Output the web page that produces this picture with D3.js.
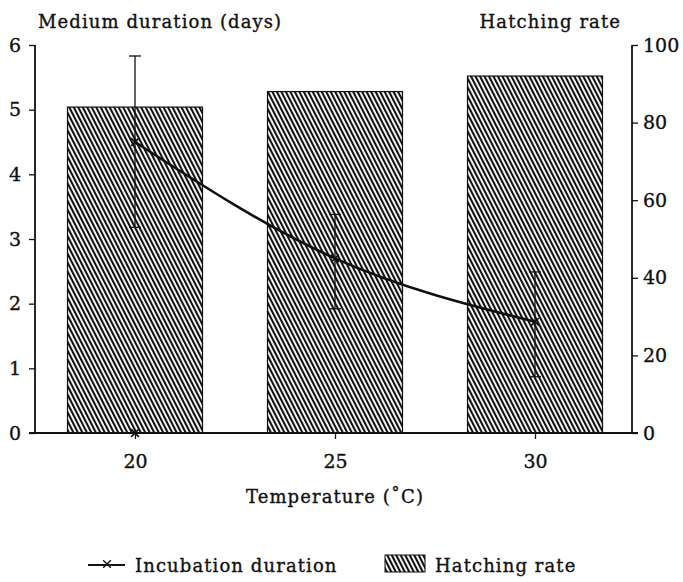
<!DOCTYPE html>
<html>
<head>
<meta charset="utf-8">
<script src="https://cdn.jsdelivr.net/npm/d3@7"></script>
<style>
  body { margin: 0; background: #fff; }
  text { font-family: "DejaVu Serif", "Liberation Serif", serif; fill: #111; stroke: #111; stroke-width: 0.35px; }
  .label { letter-spacing: 1.1px; }
</style>
</head>
<body>
<svg id="chart"></svg>
<script>
CHART_WIDTH = 683;
CHART_HEIGHT = 582;
PLOT = { left: 35, right: 632, top: 45, bottom: 433 };

// data
var temperatures = [20, 25, 30];
var hatchingRate = [84, 88, 92];          // %, right axis
var durationMean = [4.5, 2.7, 1.72];      // days, left axis
var durationHigh = [5.83, 3.38, 2.49];
var durationLow = [3.18, 1.92, 0.87];
var leftTicks = [0, 1, 2, 3, 4, 5, 6];
var rightTicks = [0, 20, 40, 60, 80, 100];
var xTicks = [20, 25, 30];

function buildChart() {
    var svg = d3.select("#chart")
        .attr("width", CHART_WIDTH)
        .attr("height", CHART_HEIGHT);

    var x = d3.scaleLinear().domain([17.5, 32.425]).range([PLOT.left, PLOT.right]);
    var yLeft = d3.scaleLinear().domain([0, 6]).range([PLOT.bottom, PLOT.top]);
    var yRight = d3.scaleLinear().domain([0, 100]).range([PLOT.bottom, PLOT.top]);
    var barW = x(20 + 3.375) - x(20);

    var pat = svg.append("defs").append("pattern")
        .attr("id", "hatch")
        .attr("patternUnits", "userSpaceOnUse")
        .attr("width", 4)
        .attr("height", 4)
        .attr("patternTransform", "rotate(-27)");
    pat.append("rect").attr("width", 4).attr("height", 4).attr("fill", "#fff");
    pat.append("line")
        .attr("x1", 1).attr("y1", 0).attr("x2", 1).attr("y2", 4)
        .attr("stroke", "#111").attr("stroke-width", 2.2);

    // bars
    svg.selectAll(".bar")
        .data(temperatures)
        .enter().append("rect")
        .attr("class", "bar")
        .attr("x", function(d) { return x(d) - barW / 2; })
        .attr("width", barW)
        .attr("y", function(d, i) { return yRight(hatchingRate[i]); })
        .attr("height", function(d, i) { return PLOT.bottom - yRight(hatchingRate[i]); })
        .attr("fill", "url(#hatch)")
        .attr("stroke", "#111")
        .attr("stroke-width", 1.2);

    // axes
    var leftAxis = svg.append("g")
        .attr("transform", "translate(" + PLOT.left + ",0)")
        .call(d3.axisLeft(yLeft).tickValues(leftTicks).tickSize(6).tickPadding(8).tickFormat(d3.format("d")));
    var rightAxis = svg.append("g")
        .attr("transform", "translate(" + PLOT.right + ",0)")
        .call(d3.axisRight(yRight).tickValues(rightTicks).tickSize(6).tickPadding(5).tickFormat(d3.format("d")));
    var bottomAxis = svg.append("g")
        .attr("transform", "translate(0," + PLOT.bottom + ")")
        .call(d3.axisBottom(x).tickValues(xTicks).tickSize(6).tickPadding(16).tickFormat(d3.format("d")));

    [leftAxis, rightAxis, bottomAxis].forEach(function(a) {
        a.select(".domain").remove();
        a.selectAll("line").attr("stroke", "#111").attr("stroke-width", 1.3);
        a.selectAll("text").attr("font-size", 19).attr("font-family", "DejaVu Serif");
    });

    svg.append("line")
        .attr("x1", PLOT.left).attr("x2", PLOT.left)
        .attr("y1", PLOT.top).attr("y2", PLOT.bottom)
        .attr("stroke", "#111").attr("stroke-width", 1.8);
    svg.append("line")
        .attr("x1", PLOT.right).attr("x2", PLOT.right)
        .attr("y1", PLOT.top).attr("y2", PLOT.bottom)
        .attr("stroke", "#111").attr("stroke-width", 1.8);
    svg.append("line")
        .attr("x1", PLOT.left - 6).attr("x2", PLOT.right + 6)
        .attr("y1", PLOT.bottom).attr("y2", PLOT.bottom)
        .attr("stroke", "#111").attr("stroke-width", 1.8);

    // error bars
    var err = svg.append("g").attr("stroke", "#111").attr("stroke-width", 1.3);
    temperatures.forEach(function(t, i) {
        var cx = x(t);
        err.append("line")
            .attr("x1", cx).attr("x2", cx)
            .attr("y1", yLeft(durationHigh[i])).attr("y2", yLeft(durationLow[i]));
        err.append("line")
            .attr("x1", cx - 6).attr("x2", cx + 6)
            .attr("y1", yLeft(durationHigh[i])).attr("y2", yLeft(durationHigh[i]));
        err.append("line")
            .attr("x1", cx - 6).attr("x2", cx + 6)
            .attr("y1", yLeft(durationLow[i])).attr("y2", yLeft(durationLow[i]));
    });

    // incubation duration line
    var line = d3.line()
        .x(function(d, i) { return x(temperatures[i]); })
        .y(function(d) { return yLeft(d); })
        .curve(d3.curveMonotoneX);
    svg.append("path")
        .datum(durationMean)
        .attr("d", line)
        .attr("fill", "none")
        .attr("stroke", "#111")
        .attr("stroke-width", 2.6);

    var marker = d3.symbol().type(d3.symbolX).size(40);
    svg.selectAll(".pt")
        .data(durationMean)
        .enter().append("path")
        .attr("class", "pt")
        .attr("transform", function(d, i) {
            return "translate(" + x(temperatures[i]) + "," + yLeft(d) + ")";
        })
        .attr("d", marker)
        .attr("stroke", "#111")
        .attr("stroke-width", 1.6);
    // stray marker sitting on the baseline at 20
    svg.append("path")
        .attr("transform", "translate(" + x(temperatures[0]) + "," + yLeft(0) + ")")
        .attr("d", marker)
        .attr("stroke", "#111")
        .attr("stroke-width", 1.6);

    // titles
    svg.append("text")
        .attr("class", "label")
        .attr("x", 38).attr("y", 28)
        .attr("font-size", 18)
        .text("Medium duration (days)");
    svg.append("text")
        .attr("class", "label")
        .attr("x", 621).attr("y", 28)
        .attr("text-anchor", "end")
        .attr("font-size", 18)
        .text("Hatching rate");
    svg.append("text")
        .attr("class", "label")
        .attr("x", (x(20) + x(30)) / 2).attr("y", 503)
        .attr("text-anchor", "middle")
        .attr("font-size", 18)
        .text("Temperature (\u02DAC)");

    // legend
    var lg = svg.append("g");
    lg.append("line")
        .attr("x1", 88).attr("x2", 125).attr("y1", 565).attr("y2", 565)
        .attr("stroke", "#111").attr("stroke-width", 2);
    lg.append("path")
        .attr("transform", "translate(107,564)")
        .attr("d", marker)
        .attr("stroke", "#111").attr("stroke-width", 1.4);
    lg.append("text")
        .attr("class", "label")
        .attr("x", 135).attr("y", 572)
        .attr("font-size", 18)
        .text("Incubation duration");
    lg.append("rect")
        .attr("x", 385).attr("y", 555).attr("width", 40).attr("height", 17)
        .attr("fill", "url(#hatch)").attr("stroke", "#111").attr("stroke-width", 1);
    lg.append("text")
        .attr("class", "label")
        .attr("x", 435).attr("y", 572)
        .attr("font-size", 18)
        .text("Hatching rate");
}

buildChart();
</script>
</body>
</html>
